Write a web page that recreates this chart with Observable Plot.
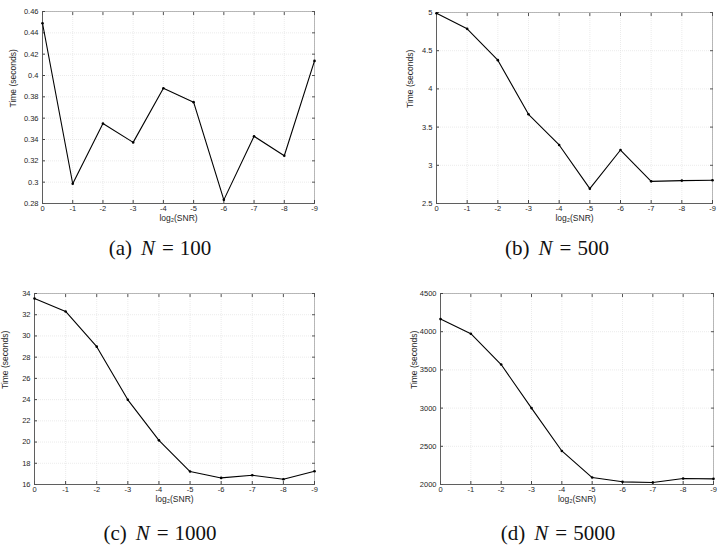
<!DOCTYPE html>
<html>
<head>
<meta charset="utf-8">
<script src="https://cdn.jsdelivr.net/npm/d3@7"></script>
<script src="https://cdn.jsdelivr.net/npm/@observablehq/plot@0.6"></script>
<style>
  html, body { margin: 0; padding: 0; background: #fff; }
  #root { position: relative; width: 724px; height: 551px; overflow: hidden; }
  .panel { position: absolute; }
  .cap { position: absolute; font-family: "Liberation Serif", "DejaVu Serif", serif; font-size: 21px; color: #111; white-space: nowrap; transform: translate(-50%, -50%); }
  .cap i { font-style: italic; }
  .cap .lab { margin-right: 9px; }
  .cap .eq { margin: 0 6px 0 7px; }
</style>
</head>
<body>
<div id="root"></div>
<script>
// ---- data ----
const snr = [0, -1, -2, -3, -4, -5, -6, -7, -8, -9];
const timeN100  = [0.449, 0.2985, 0.355, 0.3373, 0.388, 0.375, 0.2834, 0.343, 0.3248, 0.4137];
const timeN500  = [4.99, 4.786, 4.376, 3.668, 3.266, 2.694, 3.20, 2.79, 2.80, 2.805];
const timeN1000 = [33.53, 32.31, 28.99, 23.98, 20.16, 17.22, 16.62, 16.87, 16.50, 17.25];
const timeN5000 = [4165, 3974, 3570, 3000, 2439, 2091, 2035, 2026, 2078, 2074];

const yTicksN100  = [0.28, 0.30, 0.32, 0.34, 0.36, 0.38, 0.40, 0.42, 0.44, 0.46];
const yTicksN500  = [2.5, 3, 3.5, 4, 4.5, 5];
const yTicksN1000 = [16, 18, 20, 22, 24, 26, 28, 30, 32, 34];
const yTicksN5000 = [2000, 2500, 3000, 3500, 4000, 4500];

const captions = ["(a)", "(b)", "(c)", "(d)"];
const sizes = [100, 500, 1000, 5000];
const xLabel = "log\u2082(SNR)";
const yLabel = "Time (seconds)";

// ---- layout ----
const panels = [
  {values: timeN100,  ticks: yTicksN100,  left: 0,   top: 0,   m: [11, 48, 27, 42], cap: [160, 248]},
  {values: timeN500,  ticks: yTicksN500,  left: 362, top: 0,   m: [12, 12, 27, 74], cap: [557, 248]},
  {values: timeN1000, ticks: yTicksN1000, left: 0,   top: 280, m: [13, 48, 26, 34], cap: [160, 533]},
  {values: timeN5000, ticks: yTicksN5000, left: 362, top: 280, m: [13, 11, 26, 78], cap: [558, 533]}
];

const fmt = d => String(+d.toFixed(2));
const root = document.getElementById("root");

panels.forEach((p, i) => {
  const data = snr.map((s, j) => ({s, t: p.values[j]}));
  const ymin = d3.min(p.ticks), ymax = d3.max(p.ticks);
  const gridStyle = {stroke: "#e2e2e2", strokeOpacity: 1, strokeDasharray: "1,1", strokeWidth: 0.7};
  const chart = Plot.plot({
    width: 362,
    height: 230,
    marginTop: p.m[0], marginRight: p.m[1], marginBottom: p.m[2], marginLeft: p.m[3],
    style: {fontFamily: "'Liberation Sans', Arial, sans-serif", fontSize: "7.5px", color: "#262626", background: "transparent"},
    x: {type: "linear", domain: [0, -9]},
    y: {type: "linear", domain: [ymin, ymax]},
    marks: [
      Plot.gridX(snr, gridStyle),
      Plot.gridY(p.ticks, gridStyle),
      Plot.frame({stroke: "#a8a8a8", strokeWidth: 0.8}),
      Plot.axisX(snr, {anchor: "bottom", tickSize: -3, tickPadding: 5.5, tickFormat: d => String(d), label: null, stroke: "#444"}),
      Plot.axisX(snr, {anchor: "top", tickSize: -3, tickFormat: () => "", label: null, stroke: "#555"}),
      Plot.axisY(p.ticks, {anchor: "left", tickSize: -3, tickPadding: 7, tickFormat: fmt, label: null, stroke: "#444"}),
      Plot.axisY(p.ticks, {anchor: "right", tickSize: -3, tickFormat: () => "", label: null, stroke: "#555"}),
      Plot.ruleX([0], {stroke: "#555", strokeWidth: 0.9}),
      Plot.ruleY([ymin], {stroke: "#555", strokeWidth: 0.9}),
      Plot.line(data, {x: "s", y: "t", stroke: "#000", strokeWidth: 1.1}),
      Plot.dot(data, {x: "s", y: "t", r: 1.3, fill: "#000", stroke: "none"}),
      Plot.text([xLabel], {frameAnchor: "bottom", dy: 15, lineAnchor: "middle", fontSize: 8.5, fill: "#262626"}),
      Plot.text([yLabel], {frameAnchor: "left", rotate: -90, dx: (i % 2 === 0 ? -29 : -26), lineAnchor: "middle", fontSize: 8.5, fill: "#262626"})
    ]
  });
  const div = document.createElement("div");
  div.className = "panel";
  div.style.left = p.left + "px";
  div.style.top = p.top + "px";
  div.appendChild(chart);
  root.appendChild(div);

  const cap = document.createElement("div");
  cap.className = "cap";
  cap.style.left = p.cap[0] + "px";
  cap.style.top = p.cap[1] + "px";
  cap.innerHTML = "<span class='lab'>" + captions[i] + "</span><i>N</i><span class='eq'>=</span>" + sizes[i];
  root.appendChild(cap);
});
</script>
</body>
</html>
